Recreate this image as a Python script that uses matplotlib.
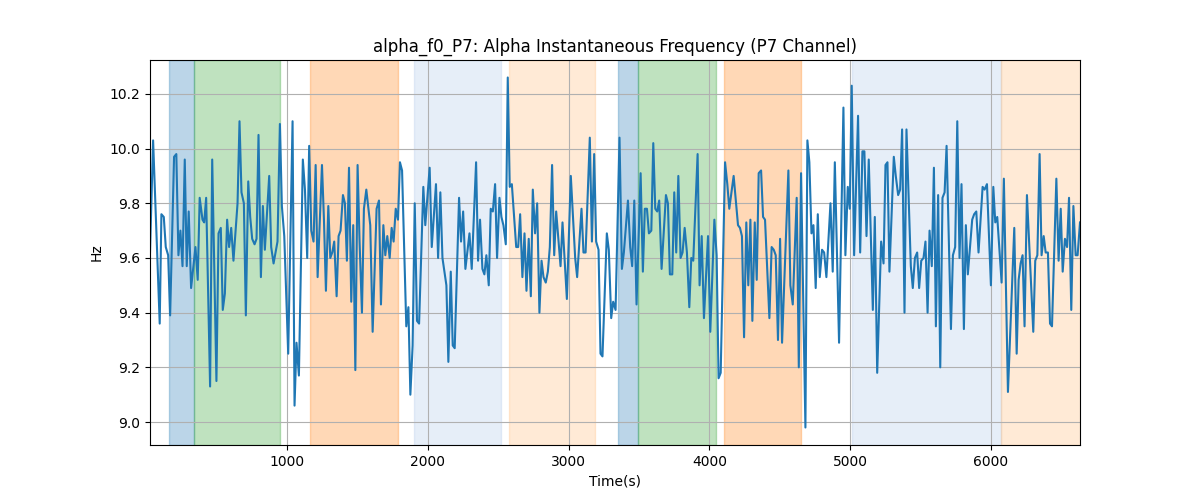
import matplotlib
matplotlib.use("Agg")
import matplotlib.pyplot as plt

# time (s) and alpha instantaneous frequency (Hz)
t = [25, 47, 94, 106, 123, 137, 154, 168, 196, 212, 227, 241, 256, 272, 286, 300, 317, 348, 364, 378,
     398, 410, 424, 452, 467, 497, 512, 528, 542, 557, 573, 587, 602, 618, 647, 661, 675, 692, 706, 723,
     737, 751, 768, 782, 796, 813, 827, 841,
     872, 886, 903, 931, 948, 962, 979, 1007, 1038, 1052, 1066, 1083, 1111, 1126, 1142, 1156, 1171, 1187,
     1202, 1216, 1247, 1261, 1275, 1292, 1306, 1320, 1334, 1351, 1365, 1379, 1396, 1410, 1424, 1439, 1455,
     1469, 1484, 1500, 1514, 1531, 1545, 1562, 1590, 1607, 1635, 1652, 1666,
     1683, 1697, 1711, 1728, 1742, 1756, 1771, 1787, 1801, 1816, 1846, 1861, 1875, 1891, 1906, 1922, 1937,
     1967, 1981, 2012, 2027, 2057, 2072, 2088, 2103, 2131, 2145, 2162, 2176, 2190, 2221, 2235, 2250, 2266,
     2295, 2311, 2342, 2356, 2370, 2387, 2401, 2415, 2432, 2446, 2461, 2477, 2491,
     2508, 2522, 2536, 2553, 2567, 2581, 2596, 2627, 2641, 2655, 2671, 2686, 2700, 2716, 2731, 2745, 2761,
     2776, 2792, 2807, 2821, 2837, 2852, 2866, 2882, 2897, 2911, 2942, 2956, 2987, 3015, 3046, 3060, 3091,
     3105, 3120, 3150, 3165, 3181, 3195, 3212, 3226, 3240, 3271, 3285, 3302, 3316,
     3333, 3361, 3378, 3392, 3421, 3437, 3451, 3466, 3482, 3511, 3527, 3541, 3556, 3570, 3587, 3601, 3615,
     3629, 3643, 3660, 3691, 3705, 3719, 3736, 3750, 3764, 3779, 3795, 3809, 3824, 3840, 3857, 3871, 3885,
     3916, 3930, 3945, 3961, 3990, 4006, 4035, 4051, 4065, 4080, 4111, 4127, 4141,
     4172, 4203, 4217, 4231, 4246, 4262, 4276, 4291, 4305, 4322, 4336, 4350, 4367, 4381, 4395, 4426, 4442,
     4457, 4471, 4487, 4502, 4516, 4561, 4575, 4592, 4620, 4635, 4651, 4682, 4696, 4710, 4725, 4739, 4755,
     4770, 4784, 4800, 4815, 4831, 4860, 4876, 4891, 4921, 4952, 4966,
     4983, 4997, 5011, 5028, 5056, 5071, 5087, 5101, 5116, 5132, 5161, 5175, 5192, 5220, 5237, 5251, 5265,
     5279, 5310, 5324, 5341, 5355, 5369, 5386, 5400, 5431, 5445, 5460, 5476, 5490, 5505, 5521, 5535, 5550,
     5564, 5580, 5595, 5609, 5625, 5640, 5656, 5671, 5685, 5716, 5730, 5746, 5761, 5777, 5791,
     5808, 5822, 5836, 5867, 5881, 5896, 5912, 5941, 5955, 5972, 6000, 6017, 6031, 6045, 6076, 6092, 6121,
     6166, 6183, 6197, 6211, 6225, 6239, 6256, 6301, 6315, 6330, 6346, 6360, 6375, 6389, 6405, 6420, 6434,
     6465, 6481, 6496, 6510, 6526, 6541, 6555, 6571, 6586, 6602, 6616, 6633]

hz = [9.62, 10.03, 9.36, 9.76, 9.75, 9.64, 9.61, 9.39, 9.97, 9.98, 9.61, 9.70, 9.57, 9.96, 9.57, 9.77, 9.49, 9.64, 9.52, 9.82,
      9.74, 9.73, 9.82, 9.13, 9.96, 9.15, 9.69, 9.71, 9.41, 9.47, 9.74, 9.64, 9.71, 9.59, 9.80, 10.10, 9.84, 9.80, 9.39, 9.88,
      9.75, 9.67, 9.65, 9.67, 10.05, 9.53, 9.79, 9.63,
      9.90, 9.64, 9.58, 9.66, 10.09, 9.79, 9.68, 9.25, 10.10, 9.06, 9.29, 9.17, 9.96, 9.85, 9.60, 10.01, 9.70, 9.66,
      9.94, 9.53, 9.94, 9.74, 9.48, 9.79, 9.60, 9.62, 9.66, 9.46, 9.68, 9.70, 9.83, 9.80, 9.59, 9.93, 9.44,
      9.72, 9.19, 9.94, 9.66, 9.40, 9.78, 9.85, 9.72, 9.33, 9.78, 9.81, 9.43,
      9.72, 9.61, 9.68, 9.60, 9.71, 9.66, 9.78, 9.74, 9.95, 9.92, 9.35, 9.42, 9.10, 9.28, 9.80, 9.37, 9.36,
      9.86, 9.72, 9.93, 9.64, 9.87, 9.60, 9.84, 9.60, 9.50, 9.22, 9.55, 9.28, 9.27, 9.82, 9.66, 9.77, 9.56,
      9.69, 9.56, 9.95, 9.59, 9.74, 9.56, 9.54, 9.61, 9.50, 9.78, 9.77, 9.87, 9.60,
      9.82, 9.75, 9.72, 9.65, 10.26, 9.86, 9.87, 9.64, 9.64, 9.76, 9.53, 9.69, 9.48, 9.67, 9.46, 9.85, 9.69,
      9.80, 9.40, 9.59, 9.53, 9.51, 9.55, 9.64, 9.94, 9.61, 9.77, 9.57, 9.73, 9.45, 9.90, 9.60, 9.53, 9.78,
      9.62, 9.62, 10.04, 9.66, 9.98, 9.66, 9.63, 9.25, 9.24, 9.69, 9.63, 9.38, 9.44,
      9.41, 10.04, 9.56, 9.62, 9.81, 9.64, 9.57, 9.81, 9.43, 9.91, 9.55, 9.78, 9.78, 9.69, 9.70, 10.02, 9.78,
      9.77, 9.81, 9.56, 9.83, 9.80, 9.54, 9.54, 9.84, 9.62, 9.90, 9.60, 9.62, 9.71, 9.62, 9.42, 9.60, 9.59,
      9.98, 9.50, 9.68, 9.38, 9.68, 9.33, 9.74, 9.61, 9.16, 9.18, 9.95, 9.87, 9.78,
      9.90, 9.72, 9.71, 9.68, 9.31, 9.73, 9.50, 9.74, 9.37, 9.73, 9.52, 9.91, 9.92, 9.75, 9.74, 9.38, 9.64,
      9.63, 9.61, 9.30, 9.67, 9.29, 9.92, 9.50, 9.43, 9.82, 9.20, 9.91, 8.98, 10.03, 9.95, 9.69, 9.72, 9.49,
      9.76, 9.53, 9.63, 9.62, 9.53, 9.80, 9.55, 9.95, 9.29, 10.15, 9.61,
      9.86, 9.78, 10.23, 9.61, 10.12, 9.62, 9.99, 9.99, 9.68, 9.96, 9.41, 9.75, 9.18, 9.66, 9.58, 9.94, 9.95,
      9.55, 9.97, 9.90, 9.83, 9.85, 10.07, 9.40, 10.07, 9.57, 9.49, 9.60, 9.62, 9.49, 9.59, 9.60, 9.66, 9.40,
      9.70, 9.57, 9.93, 9.35, 9.83, 9.20, 9.82, 9.84, 10.01, 9.34, 9.61, 9.64, 10.10, 9.60, 9.87,
      9.34, 9.72, 9.54, 9.74, 9.76, 9.77, 9.62, 9.86, 9.85, 9.87, 9.50, 9.86, 9.73, 9.75, 9.51, 9.89, 9.11,
      9.71, 9.25, 9.52, 9.58, 9.61, 9.35, 9.83, 9.33, 9.59, 9.61, 9.98, 9.61, 9.68, 9.62, 9.62, 9.36, 9.35,
      9.89, 9.59, 9.78, 9.55, 9.67, 9.64, 9.82, 9.41, 9.79, 9.61, 9.61, 9.73]

# shaded segments: (start, end, colour)
span_start = [161, 341, 1164, 1903, 2579, 3347, 3492, 4101, 5011, 6073]
span_end = [341, 948, 1787, 2517, 3188, 3492, 4047, 4654, 6073, 6640]
span_color = ['tab:blue', 'tab:green', 'tab:orange', '#aec7e8', '#ffbb78',
              'tab:blue', 'tab:green', 'tab:orange', '#aec7e8', '#ffbb78']

fig, ax = plt.subplots(figsize=(12, 5))

for s, e, c in zip(span_start, span_end, span_color):
    ax.axvspan(s, e, color=c, alpha=0.3)

ax.plot(t, hz, color='tab:blue', linewidth=1.5)

ax.set_xlim(t[0], t[-1])
ax.set_title("alpha_f0_P7: Alpha Instantaneous Frequency (P7 Channel)")
ax.set_xlabel("Time(s)")
ax.set_ylabel("Hz")
ax.grid(True)

plt.savefig("out.png", dpi=100)
